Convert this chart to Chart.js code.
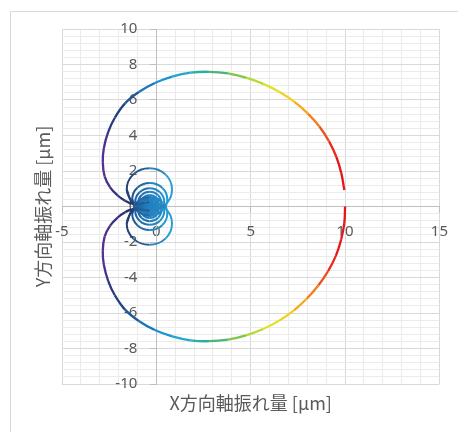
<!DOCTYPE html>
<html>
<head>
<meta charset="utf-8">
<script src="https://cdn.jsdelivr.net/npm/chart.js@4.4.1/dist/chart.umd.min.js"></script>
<style>
  html, body { margin: 0; padding: 0; background: #ffffff; }
  canvas { display: block; }
</style>
</head>
<body>
<canvas id="orbit" width="458" height="432"></canvas>
<script>
// Upper branch of the orbit: from x = 10 counter-clockwise back towards the origin
const upperX = [9.96, 9.80, 9.54, 9.15, 8.65, 8.03, 7.32, 6.53, 5.66, 4.75, 3.79, 2.80, 1.81,
                0.84, -0.08, -0.93, -1.66, -2.20, -2.55, -2.78, -2.84, -2.74, -2.45, -2.05, -1.65, -1.30];
const upperY = [0.93, 1.88, 2.79, 3.67, 4.49, 5.23, 5.89, 6.45, 6.91, 7.26, 7.50, 7.59, 7.54,
                7.32, 6.96, 6.45, 5.81, 5.00, 4.20, 3.30, 2.50, 1.70, 1.08, 0.62, 0.32, 0.14];

// Lower branch of the orbit: from x = 10 clockwise back towards the origin
const lowerX = [10.0, 9.96, 9.79, 9.51, 9.10, 8.59, 7.98, 7.29, 6.51, 5.66, 4.75, 3.79, 2.80, 1.81,
                0.84, -0.08, -0.93, -1.66, -2.20, -2.55, -2.78, -2.84, -2.74, -2.45, -2.05, -1.65, -1.30];
const lowerY = [0.0, -0.94, -1.87, -2.78, -3.64, -4.44, -5.18, -5.85, -6.43, -6.90, -7.26, -7.50, -7.59, -7.54,
                -7.32, -6.96, -6.45, -5.81, -5.00, -4.20, -3.30, -2.50, -1.70, -1.08, -0.62, -0.32, -0.14];

// Small loops around the origin (same x for the upper and lower loop of each pair)
const loopX = [
  [-1.22, -1.57, -1.22, -0.37, 0.48, 0.83, 0.48, -0.37, -1.22, -1.57],
  [-1.01, -1.28, -1.01, -0.35, 0.31, 0.58, 0.31, -0.35, -1.01, -1.28],
  [-0.89, -1.12, -0.89, -0.35, 0.19, 0.42, 0.19, -0.35, -0.89, -1.12],
  [-0.78, -0.96, -0.78, -0.35, 0.08, 0.26, 0.08, -0.35, -0.78, -0.96],
  [-0.68, -0.81, -0.68, -0.35, -0.02, 0.11, -0.02, -0.35, -0.68, -0.81],
  [-0.59, -0.69, -0.59, -0.35, -0.11, -0.01, -0.11, -0.35, -0.59, -0.69],
  [-0.51, -0.57, -0.51, -0.35, -0.19, -0.13, -0.19, -0.35, -0.51, -0.57],
  [-0.44, -0.47, -0.44, -0.35, -0.26, -0.23, -0.26, -0.35, -0.44, -0.47]
];
const loopUpperY = [
  [0.11, 0.96, 1.81, 2.16, 1.81, 0.96, 0.11, -0.24, 0.11, 0.96],
  [-0.26, 0.4, 1.06, 1.33, 1.06, 0.4, -0.26, -0.53, -0.26, 0.4],
  [-0.28, 0.26, 0.8, 1.03, 0.8, 0.26, -0.28, -0.51, -0.28, 0.26],
  [-0.21, 0.22, 0.65, 0.83, 0.65, 0.22, -0.21, -0.39, -0.21, 0.22],
  [-0.14, 0.19, 0.52, 0.65, 0.52, 0.19, -0.14, -0.27, -0.14, 0.19],
  [-0.09, 0.15, 0.39, 0.49, 0.39, 0.15, -0.09, -0.19, -0.09, 0.15],
  [-0.06, 0.1, 0.26, 0.32, 0.26, 0.1, -0.06, -0.12, -0.06, 0.1],
  [-0.03, 0.06, 0.15, 0.18, 0.15, 0.06, -0.03, -0.06, -0.03, 0.06]
];
const loopLowerY = [
  [-0.11, -0.96, -1.81, -2.16, -1.81, -0.96, -0.11, 0.24, -0.11, -0.96],
  [0.26, -0.4, -1.06, -1.33, -1.06, -0.4, 0.26, 0.53, 0.26, -0.4],
  [0.28, -0.26, -0.8, -1.03, -0.8, -0.26, 0.28, 0.51, 0.28, -0.26],
  [0.21, -0.22, -0.65, -0.83, -0.65, -0.22, 0.21, 0.39, 0.21, -0.22],
  [0.14, -0.19, -0.52, -0.65, -0.52, -0.19, 0.14, 0.27, 0.14, -0.19],
  [0.09, -0.15, -0.39, -0.49, -0.39, -0.15, 0.09, 0.19, 0.09, -0.15],
  [0.06, -0.1, -0.26, -0.32, -0.26, -0.1, 0.06, 0.12, 0.06, -0.1],
  [0.03, -0.06, -0.15, -0.18, -0.15, -0.06, 0.03, 0.06, 0.03, -0.06]
];

// Axis ranges and steps
const xMin = -5, xMax = 15, xMinorStep = 1, xMajorStep = 5;
const yMin = -10, yMax = 10, yMinorStep = 0.4, yMajorStep = 2;
const xTitle = 'X方向軸振れ量 [μm]';
const yTitle = 'Y方向軸振れ量 [μm]';

// ---- styling ----
// colour along a branch, keyed by point index of the upper branch
const branchStops = [
  [0, '#e3161b'], [2, '#e6191b'], [3, '#ec3a1d'], [4, '#f0661f'], [5, '#f5951f'], [6, '#f4bd20'],
  [7, '#eee41f'], [8, '#cfe02c'], [9, '#a3cf3c'], [10, '#5cba5e'], [11, '#34b18a'], [12, '#22acb9'],
  [13, '#1aa4da'], [14, '#1b84c7'], [15, '#1d66a9'], [16, '#1f4a86'], [17, '#243c79'], [18, '#38357f'],
  [19, '#52308c'], [20, '#5a2f91'], [21, '#542f8e'], [22, '#43308a'], [23, '#333279'], [24, '#29346d'],
  [25, '#223566']
];
const loopDark  = ['#213a6d', '#1f4f8f', '#1f5f9f', '#1e68a8', '#1d70b2', '#1c78bb', '#1b7ec2', '#1a80c4'];
const loopLight = ['#2aa6de', '#27a0da', '#2596d2', '#2290cc', '#208ac8', '#1f86c6', '#1d84c4', '#1a80c4'];

function rgb(h) { const n = parseInt(h.slice(1), 16); return [(n >> 16) & 255, (n >> 8) & 255, n & 255]; }
function mix(a, b, t) {
  const A = rgb(a), B = rgb(b);
  return 'rgb(' + A.map((v, i) => Math.round(v + (B[i] - v) * t)).join(',') + ')';
}
function colorAt(stops, f) {
  if (f <= stops[0][0]) return stops[0][1];
  for (let i = 1; i < stops.length; i++) {
    if (f <= stops[i][0]) {
      const [f0, c0] = stops[i - 1], [f1, c1] = stops[i];
      return mix(c0, c1, (f - f0) / (f1 - f0));
    }
  }
  return stops[stops.length - 1][1];
}
const toPoints = (xs, ys) => xs.map((x, i) => ({ x, y: ys[i] }));

function branchDataset(xs, ys, indexShift) {
  return {
    data: toPoints(xs, ys),
    showLine: true,
    pointRadius: 0,
    borderWidth: 2.3,
    tension: 0.4,
    borderColor: '#1f77b4',
    segment: { borderColor: ctx => colorAt(branchStops, ctx.p0DataIndex + 0.5 - indexShift) }
  };
}
function loopDataset(k, ys) {
  const xs = loopX[k];
  const lo = Math.min(...xs), hi = Math.max(...xs);
  return {
    data: toPoints(xs, ys),
    showLine: true,
    pointRadius: 0,
    borderWidth: 2,
    tension: 0.4,
    borderColor: loopDark[k],
    segment: {
      borderColor: ctx => {
        const xm = (ctx.p0.parsed.x + ctx.p1.parsed.x) / 2;
        return mix(loopDark[k], loopLight[k], (xm - lo) / (hi - lo));
      }
    }
  };
}

const datasets = [branchDataset(upperX, upperY, 0), branchDataset(lowerX, lowerY, 1)];
loopX.forEach((_, k) => {
  datasets.push(loopDataset(k, loopUpperY[k]));
  datasets.push(loopDataset(k, loopLowerY[k]));
});

const isMultiple = (v, step) => Math.abs(v / step - Math.round(v / step)) < 1e-6;
const textGrey = '#595959';
const tickFont = { family: "'Noto Sans', 'Open Sans', sans-serif", size: 15 };

// light frame around the whole chart
const frame = {
  id: 'frame',
  beforeDraw(chart) {
    const ctx = chart.ctx;
    ctx.save();
    ctx.strokeStyle = '#d9d9d9';
    ctx.lineWidth = 1;
    ctx.strokeRect(10.5, 11.5, 470, 440);
    ctx.restore();
  }
};
// the y axis sits at x = 0: keep its labels clear of the tick marks
const yLabelGap = {
  id: 'yLabelGap',
  beforeDraw(chart) {
    const items = chart.scales.y.getLabelItems();
    if (items._gapApplied) return;
    items.forEach(it => { it.options.translation[0] -= 19; });
    items._gapApplied = true;
  }
};
const axisTitles = {
  id: 'axisTitles',
  afterDraw(chart) {
    const { ctx, chartArea } = chart;
    ctx.save();
    ctx.fillStyle = textGrey;
    ctx.font = "18px 'Noto Sans CJK JP', sans-serif";
    ctx.textAlign = 'center';
    ctx.textBaseline = 'middle';
    ctx.fillText(xTitle, (chartArea.left + chartArea.right) / 2, chartArea.bottom + 19);
    ctx.translate(43, (chartArea.top + chartArea.bottom) / 2);
    ctx.rotate(-Math.PI / 2);
    ctx.fillText(yTitle, 0, 0);
    ctx.restore();
  }
};

new Chart(document.getElementById('orbit'), {
  type: 'scatter',
  data: { datasets },
  options: {
    responsive: false,
    animation: false,
    devicePixelRatio: 1,
    layout: { padding: { left: 62, top: 29, right: 17, bottom: 48 } },
    plugins: { legend: { display: false }, tooltip: { enabled: false } },
    scales: {
      x: {
        type: 'linear',
        position: { y: 0 },
        min: xMin, max: xMax,
        ticks: {
          stepSize: xMinorStep,
          autoSkip: false,
          maxRotation: 0,
          padding: 10,
          color: textGrey,
          font: tickFont,
          callback: v => isMultiple(v, xMajorStep) ? String(Math.round(v)) : ''
        },
        grid: {
          color: c => isMultiple(c.tick.value, xMajorStep) ? '#d9d9d9' : '#ebebeb',
          tickColor: c => isMultiple(c.tick.value, xMajorStep) ? '#bfbfbf' : 'rgba(0,0,0,0)',
          tickLength: 6
        },
        border: { color: '#bfbfbf', width: 1 }
      },
      y: {
        type: 'linear',
        position: { x: 0 },
        min: yMin, max: yMax,
        ticks: {
          stepSize: yMinorStep,
          autoSkip: false,
          padding: 10,
          color: textGrey,
          font: tickFont,
          callback: v => isMultiple(v, yMajorStep) ? String(Math.round(v)) : ''
        },
        grid: {
          color: c => isMultiple(c.tick.value, yMajorStep) ? '#d9d9d9' : '#ebebeb',
          tickColor: c => isMultiple(c.tick.value, yMajorStep) ? '#bfbfbf' : 'rgba(0,0,0,0)',
          tickLength: 6
        },
        border: { color: '#bfbfbf', width: 1 }
      }
    }
  },
  plugins: [frame, yLabelGap, axisTitles]
});
</script>
</body>
</html>
